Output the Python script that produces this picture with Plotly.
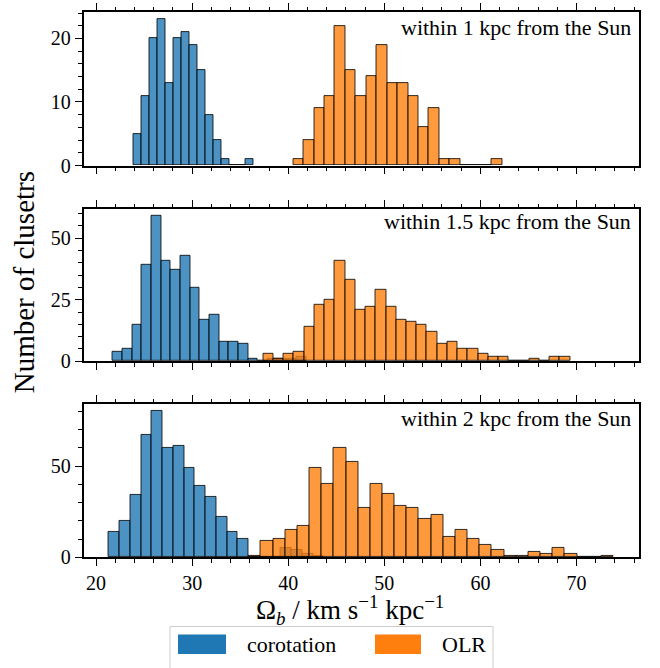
import numpy as np
import plotly.graph_objects as go

# ---------------- data ----------------
panel_labels = ["within 1 kpc from the Sun", "within 1.5 kpc from the Sun", "within 2 kpc from the Sun"]

# corotation histograms: left edge of first bin, bin width, counts
cor_1_start, cor_1_width = 23.9, 0.833
cor_1_counts = [5, 11, 20, 23, 13, 20, 21, 19, 15, 8, 4, 1, 0, 0, 1]
cor_15_start, cor_15_width = 21.74, 1.007
cor_15_counts = [4, 5, 15, 39, 59, 41, 37, 43, 30, 17, 19, 8, 8, 7, 1, 0, 1, 1, 1, 2]
cor_2_start, cor_2_width = 21.32, 1.12
cor_2_counts = [14, 20, 34, 67, 80, 60, 61, 49, 39, 33, 22, 14, 10, 0, 0, 0, 5, 4, 2, 1]

# OLR histograms
olr_1_start, olr_1_width = 40.52, 1.087
olr_1_counts = [1, 4, 9, 11, 22, 15, 11, 14, 19, 13, 13, 11, 6, 9, 1, 1, 0, 0, 0, 1]
olr_15_start, olr_15_width = 37.4, 1.065
olr_15_counts = [3, 1, 3, 4, 14, 23, 25, 41, 33, 21, 22, 29, 22, 17, 16, 15, 12, 7, 8, 5,
                 5, 3, 2, 2, 0, 0, 1, 0, 2, 2]
olr_2_start, olr_2_width = 35.9, 1.265
olr_2_counts = [1, 9, 10, 15, 17, 49, 40, 60, 52, 27, 40, 35, 28, 27, 21, 23, 11, 15, 10, 7,
                4, 1, 1, 3, 2, 5, 2, 0, 0, 1]

x_tick_vals = [20, 30, 40, 50, 60, 70]
y_tick_vals = [[0, 10, 20], [0, 25, 50], [0, 50]]
y_minor = [2, 5, 10]
# ----------------------------------------------------------------

SERIF = "Liberation Serif"
W, H = 660, 668
C_BLUE = "rgba(31,119,180,0.8)"
C_ORANGE = "rgba(255,127,14,0.8)"
EDGE = "rgba(0,0,0,0.8)"

panels = [
    ((cor_1_start, cor_1_width, cor_1_counts), (olr_1_start, olr_1_width, olr_1_counts)),
    ((cor_15_start, cor_15_width, cor_15_counts), (olr_15_start, olr_15_width, olr_15_counts)),
    ((cor_2_start, cor_2_width, cor_2_counts), (olr_2_start, olr_2_width, olr_2_counts)),
]

def px_x(p):
    return p / W

def px_y(p):
    return 1 - p / H

x_dom = [px_x(83.5), px_x(638.7)]
y_doms = [(12.3, 168.3), (212.3, 367.3), (410.7, 566.7)]

all_lo, all_hi = [], []
for cor, olr in panels:
    for s, w, c in (cor, olr):
        all_lo.append(s)
        all_hi.append(s + w * len(c))
lo, hi = min(all_lo), max(all_hi)
pad = 0.05 * (hi - lo)
x_range = [lo - pad, hi + pad]

fig = go.Figure()
for i, (cor, olr) in enumerate(panels):
    sfx = "" if i == 0 else str(i + 1)
    for (s, w, c), col, name in ((cor, C_BLUE, "corotation"), (olr, C_ORANGE, "OLR")):
        c = np.asarray(c, dtype=float)
        centers = s + w * (np.arange(len(c)) + 0.5)
        fig.add_trace(go.Bar(
            x=centers, y=c, width=[w] * len(c),
            marker=dict(color=col, line=dict(color=EDGE, width=1)),
            name=name, showlegend=False,
            xaxis="x" + sfx, yaxis="y" + sfx,
        ))

layout = dict(
    width=W, height=H, margin=dict(l=0, r=0, t=0, b=0),
    paper_bgcolor="white", plot_bgcolor="white",
    barmode="overlay", bargap=0,
    font=dict(family=SERIF, size=20, color="black"),
    showlegend=False,
)
for i in range(3):
    sfx = "" if i == 0 else str(i + 1)
    top, bot = y_doms[i]
    ymax = 1.05 * max(max(panels[i][0][2]), max(panels[i][1][2]))
    layout["xaxis" + sfx] = dict(
        domain=x_dom, range=x_range, anchor="y" + sfx,
        tickvals=x_tick_vals, showticklabels=(i == 2),
        ticks="outside", ticklen=7, tickwidth=1.3, tickcolor="black",
        minor=dict(dtick=2, tick0=0, ticks="outside", ticklen=3.5, tickwidth=1, tickcolor="black"),
        showline=True, linecolor="black", linewidth=1.5, mirror="ticks",
        showgrid=False, zeroline=False,
        tickfont=dict(family=SERIF, size=20),
    )
    if i != 0:
        layout["xaxis" + sfx]["matches"] = "x"
    layout["yaxis" + sfx] = dict(
        domain=[px_y(bot), px_y(top)], range=[0, ymax], anchor="x" + sfx,
        tickvals=y_tick_vals[i],
        ticks="outside", ticklen=7, tickwidth=1.3, tickcolor="black",
        minor=dict(dtick=y_minor[i], tick0=0, ticks="outside", ticklen=3.5, tickwidth=1, tickcolor="black"),
        showline=True, linecolor="black", linewidth=1.5, mirror=True,
        showgrid=False, zeroline=False,
        tickfont=dict(family=SERIF, size=20),
    )
fig.update_layout(**layout)

# panel labels
label_y = [28, 225, 425]
for i, t in enumerate(panel_labels):
    fig.add_annotation(text=t, xref="paper", yref="paper", x=px_x(633), y=px_y(label_y[i]),
                       xanchor="right", yanchor="middle", showarrow=False,
                       font=dict(family=SERIF, size=22))

# axis titles
fig.add_annotation(text="Number of clusetrs", xref="paper", yref="paper",
                   x=px_x(24), y=px_y(287), textangle=-90, showarrow=False,
                   xanchor="center", yanchor="middle", font=dict(family=SERIF, size=29))
fig.add_annotation(text="Ω<i><sub>b</sub></i> / km s<sup>−1</sup> kpc<sup>−1</sup>",
                   xref="paper", yref="paper", x=px_x(350), y=px_y(620), showarrow=False,
                   xanchor="center", yanchor="middle", font=dict(family=SERIF, size=27))

# legend drawn below the axes
fig.add_shape(type="rect", xref="paper", yref="paper",
              x0=px_x(170), x1=px_x(493), y0=px_y(680), y1=px_y(637),
              line=dict(color="rgb(204,204,204)", width=1), fillcolor="white")
fig.add_shape(type="rect", xref="paper", yref="paper",
              x0=px_x(178), x1=px_x(226), y0=px_y(665), y1=px_y(645),
              line=dict(width=0), fillcolor="rgb(31,119,180)")
fig.add_shape(type="rect", xref="paper", yref="paper",
              x0=px_x(375), x1=px_x(421), y0=px_y(665), y1=px_y(645),
              line=dict(width=0), fillcolor="rgb(255,127,14)")
fig.add_annotation(text="corotation", xref="paper", yref="paper", x=px_x(245), y=px_y(655),
                   xanchor="left", yanchor="middle", showarrow=False, font=dict(family=SERIF, size=22))
fig.add_annotation(text="OLR", xref="paper", yref="paper", x=px_x(440), y=px_y(655),
                   xanchor="left", yanchor="middle", showarrow=False, font=dict(family=SERIF, size=22))

fig.write_html("out.html")
